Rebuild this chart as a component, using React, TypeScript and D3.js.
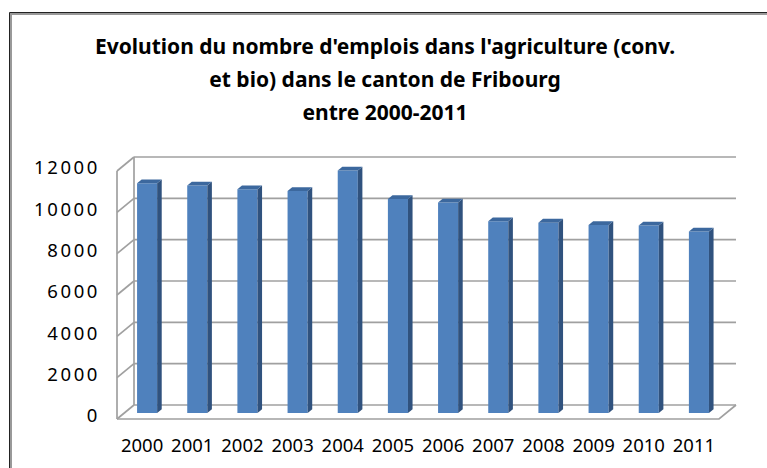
import React from "react";
import { scaleBand, scaleLinear } from "d3";

// data
const years = ["2000", "2001", "2002", "2003", "2004", "2005", "2006", "2007", "2008", "2009", "2010", "2011"];
const emplois = [11120, 11010, 10830, 10740, 11730, 10350, 10180, 9280, 9210, 9100, 9070, 8780];
const yTicks = [0, 2000, 4000, 6000, 8000, 10000, 12000];
const titleLines = [
  "Evolution du nombre d'emplois dans l'agriculture (conv.",
  "et bio) dans le canton de Fribourg",
  "entre 2000-2011",
];

const W = 767;
const H = 468;
// front plane of the 3D box
const left = 117;
const right = 719;
const bottom = 419;
const top = 171;
// depth offset from front to back wall
const DX = 17;
const DY = -14;
// bar depth, as fractions of box depth
const T0 = 0.43;
const T1 = 0.70;

const grid = "#A0A0A0";

const App = () => {
  const x = scaleBand<string>()
    .domain(years)
    .range([left, right])
    .paddingInner(0.6)
    .paddingOuter(0.3);
  const y = scaleLinear().domain([0, 12000]).range([bottom, top]);

  // project a front-plane point back to depth t
  const px = (xv: number, t: number) => xv + DX * t;
  const py = (yv: number, t: number) => yv + DY * t;
  const pts = (a: [number, number][]) => a.map((p) => p.join(",")).join(" ");

  const bw = x.bandwidth();
  const depthW = DX * (T1 - T0);

  return (
    <svg
      width={W}
      height={H}
      style={{ position: "absolute", left: 0, top: 0, background: "#fff" }}
      fontFamily="'Noto Sans', sans-serif"
    >
      {/* outer frame, cut off at right and bottom */}
      <path d={`M9.5,${H} V12.5 H${W}`} fill="none" stroke="#222" strokeWidth={1} />
      <path d={`M11,${H} V14 H${W}`} fill="none" stroke="#999" strokeWidth={2} />

      {/* title */}
      <g fontWeight="bold" fontSize={21} textAnchor="middle" fill="#000">
        {titleLines.map((l, i) => (
          <text key={i} x={385} y={54 + i * 33}>
            {l}
          </text>
        ))}
      </g>

      {/* back wall gridlines + left wall diagonals */}
      <g stroke={grid} strokeWidth={1.7} fill="none">
        {yTicks.map((v) => (
          <g key={v}>
            <line x1={px(left, 1)} x2={px(right, 1)} y1={py(y(v), 1)} y2={py(y(v), 1)} />
            <line x1={left} y1={y(v)} x2={px(left, 1)} y2={py(y(v), 1)} />
          </g>
        ))}
        <line x1={left} x2={left} y1={y(12000)} y2={bottom} />
        <line x1={px(left, 1)} x2={px(left, 1)} y1={py(y(12000), 1)} y2={py(bottom, 1)} />
        <polyline
          points={pts([
            [left, bottom],
            [right, bottom],
            [px(right, 1), py(bottom, 1)],
          ])}
        />
      </g>

      {/* y labels */}
      <g fontSize={18.5} textAnchor="end" fill="#000" letterSpacing={2.6}>
        {yTicks.map((v) => (
          <text key={v} x={100} y={y(v) - 3} dy="0.35em">
            {v}
          </text>
        ))}
      </g>

      {/* 3D columns */}
      {years.map((yr, i) => {
        const x0 = (x(yr) as number) - depthW / 2;
        const x1 = x0 + bw;
        const yb = y(0);
        const yt = y(emplois[i]);
        const fl = px(x0, T0), fr = px(x1, T0);
        const fb = py(yb, T0), ft = py(yt, T0);
        const br = px(x1, T1), bl = px(x0, T1);
        const bb = py(yb, T1), bt = py(yt, T1);
        return (
          <g key={yr}>
            <polygon points={pts([[fl, ft], [fr, ft], [fr, fb], [fl, fb]])} fill="#4F81BD" />
            <polygon points={pts([[fr, ft], [br, bt], [br, bb], [fr, fb]])} fill="#30527E" />
            <polygon points={pts([[fl, ft], [bl, bt], [br, bt], [fr, ft]])} fill="#3C689E" />
          </g>
        );
      })}

      {/* x labels */}
      <g fontSize={18.5} textAnchor="middle" fill="#000">
        {years.map((yr) => (
          <text key={yr} x={(x(yr) as number) + bw / 2} y={452}>
            {yr}
          </text>
        ))}
      </g>
    </svg>
  );
};

export default App;
